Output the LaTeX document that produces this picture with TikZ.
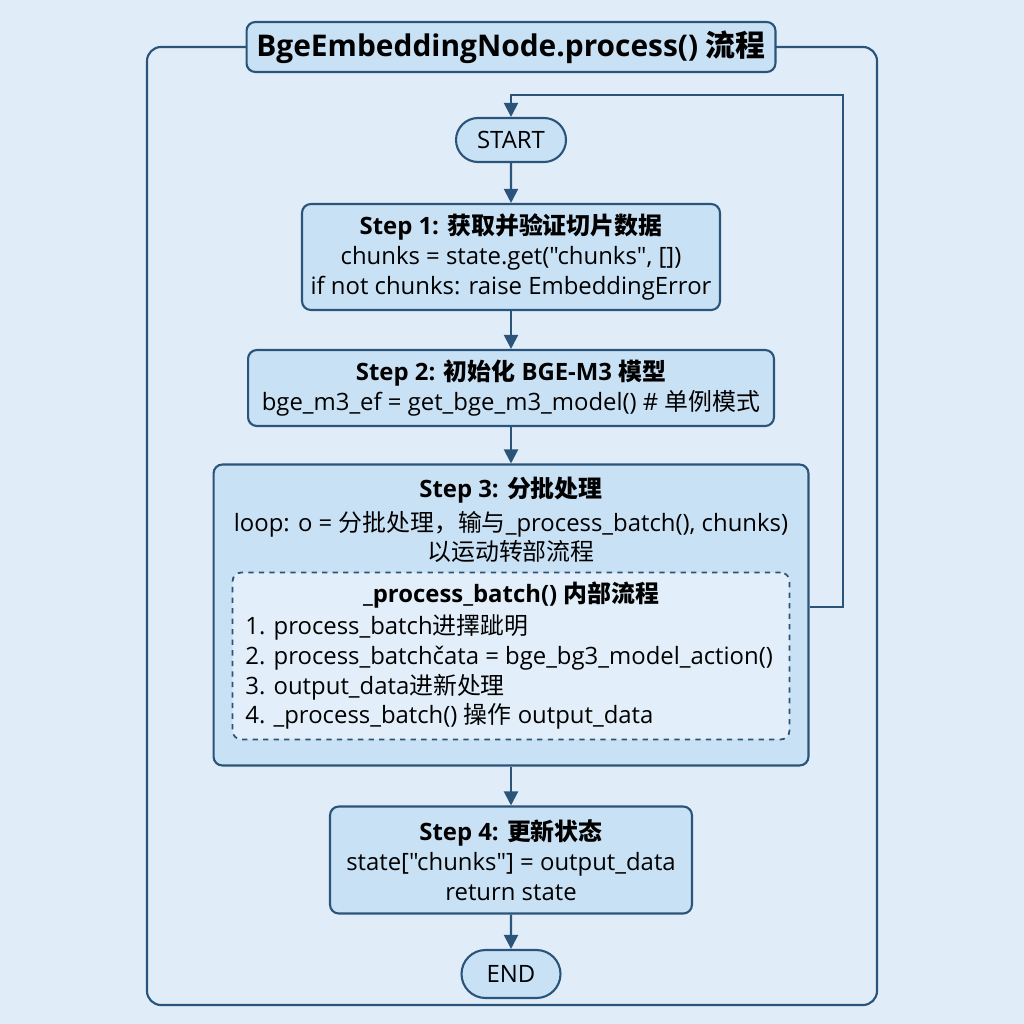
\documentclass[tikz,border=0pt]{standalone}
\usepackage{fontspec}
\setmainfont{Open Sans}[Ligatures=TeXOff]
\newfontfamily\cjk{Noto Sans CJK SC}
\usetikzlibrary{arrows.meta,positioning,shapes.misc}

\definecolor{mybg}{RGB}{224,237,248}
\definecolor{myfill}{RGB}{201,225,245}
\definecolor{myinner}{RGB}{226,239,250}
\definecolor{mydarkblue}{RGB}{42,84,122}
\newcommand{\zh}[1]{{\cjk #1}}

\tikzset{
  stepbox/.style={draw=mydarkblue,fill=myfill,line width=1.2pt,rounded corners=5pt,
    align=center,inner sep=0pt,font=\fontsize{13.6}{17}\selectfont},
  endbox/.style={draw=mydarkblue,fill=myfill,line width=1.2pt,rounded rectangle,
    inner sep=0pt,font=\fontsize{13.6}{17}\selectfont},
  dashbox/.style={draw=mydarkblue,fill=myinner,line width=1pt,dashed,rounded corners=5pt},
  arrow/.style={draw=mydarkblue,line width=1.2pt,-{Triangle[length=8pt,width=8pt]}},
  txt/.style={inner sep=0pt,font=\fontsize{13.6}{17}\selectfont},
}

\begin{document}
\begin{tikzpicture}[x=0.02cm,y=-0.02cm]
  \fill[mybg] (0,0) rectangle (1024,1024);
  \useasboundingbox (0,0) rectangle (1024,1024);
  % outer frame and title
  \draw[mydarkblue,line width=1.2pt,rounded corners=8pt] (147,47) rectangle (877,1005);
  \node[stepbox,minimum width=10.58cm,minimum height=1cm,font=\fontsize{17}{20}\selectfont\bfseries]
    (title) at (511,47) {BgeEmbeddingNode.process() \zh{流程}};

  % main steps
  \node[endbox,minimum width=2.2cm,minimum height=0.88cm] (start) at (511,140) {START};
  \node[stepbox,minimum width=8.36cm,minimum height=2.12cm] (s1) at (511,257)
    {\textbf{Step 1: \zh{获取并验证切片数据}}\\
     chunks = state.get("chunks", [])\\
     if not chunks: raise EmbeddingError};
  \node[stepbox,minimum width=10.52cm,minimum height=1.52cm] (s2) at (511,388)
    {\textbf{Step 2: \zh{初始化} BGE-M3 \zh{模型}}\\
     bge\_m3\_ef = get\_bge\_m3\_model() \# \zh{单例模式}};
  \node[stepbox,minimum width=11.9cm,minimum height=6.02cm] (s3) at (511,615) {};
  \node[txt,font=\fontsize{13.6}{17}\selectfont\bfseries] (s3t) at (511,490) {Step 3: \zh{分批处理}};
  \node[txt,align=center] (s3b) at (511,537)
    {loop: o = \zh{分批处理，输与}\_process\_batch(), chunks)\\ \zh{以运动转部流程}};
  \node[dashbox,minimum width=11.14cm,minimum height=3.34cm] (inner) at (511,656) {};
  \node[txt,font=\fontsize{13.6}{17}\selectfont\bfseries] (innert) at (511,595)
    {\_process\_batch() \zh{内部流程}};
  \node[txt,align=left,anchor=west] (innerl) at (245,672)
    {1. process\_batch\zh{进擇跐明}\\
     2. process\_batchčata = bge\_bg3\_model\_action()\\
     3. output\_data\zh{进新处理}\\
     4. \_process\_batch() \zh{操作} output\_data};
  \node[stepbox,minimum width=7.24cm,minimum height=2.14cm] (s4) at (511,860)
    {\textbf{Step 4: \zh{更新状态}}\\
     state["chunks"] = output\_data\\
     return state};
  \node[endbox,minimum width=1.98cm,minimum height=0.96cm] (end) at (511,974) {END};

  % connectors
  \draw[arrow] (start) -- (s1);
  \draw[arrow] (s1) -- (s2);
  \draw[arrow] (s2) -- (s3);
  \draw[arrow] (s3) -- (s4);
  \draw[arrow] (s4) -- (end);
  \coordinate (loop) at (843,95);
  \draw[arrow] ([yshift=0.16cm]s3.east) -| (loop) -| (start.north);
\end{tikzpicture}
\end{document}
